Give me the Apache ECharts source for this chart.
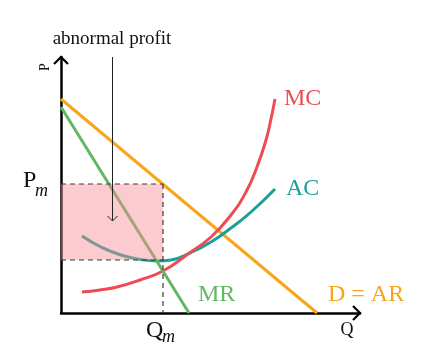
<!DOCTYPE html>
<html>
<head>
<meta charset="utf-8">
<script src="https://cdn.jsdelivr.net/npm/echarts@6/dist/echarts.min.js"></script>
<style>
html,body{margin:0;padding:0;background:#fff;}
#c{width:435px;height:357px;}
</style>
</head>
<body>
<div id="c"></div>
<script>
// Data (quantity on x, price on y)
const demandQ = [0, 256];
const demandP = [214, 0];
const mrQ = [0, 128];
const mrP = [206, 0];
const acQ = [21, 40, 60, 80, 96, 110, 129, 150, 170, 190, 214];
const acP = [77, 66, 58, 53.5, 52, 53, 60, 71, 85, 101, 124];
const mcQ = [21, 39, 56, 79, 102, 127, 150, 170, 185, 196, 205, 210, 214];
const mcP = [21, 23, 26, 33, 42, 59, 76, 98, 121, 146, 173, 194, 214];
const Qm = 102;
const Pm = 129;
const acAtQm = 53;
const xMax = 299;
const yMax = 256;

const zip = (a, b) => a.map((v, i) => [v, b[i]]);

const C_MC = '#ef4b55', C_AC = '#1aa096', C_MR = '#62b862', C_D = '#f9a51c';
const FONT = '"Liberation Serif", "DejaVu Serif", serif';

const chart = echarts.init(document.getElementById('c'));
const axisCommon = {
  type: 'value', min: 0,
  axisLine: { show: true, lineStyle: { color: '#000', width: 2.5 } },
  axisTick: { show: false }, axisLabel: { show: false }, splitLine: { show: false }
};
chart.setOption({
  animation: false,
  grid: { left: 61, right: 75, top: 57, bottom: 44 },
  xAxis: Object.assign({}, axisCommon, { max: xMax }),
  yAxis: Object.assign({}, axisCommon, { max: yMax }),
  series: [
    { type: 'line', data: zip(demandQ, demandP), symbol: 'none', z: 2, lineStyle: { color: C_D, width: 3 } },
    { type: 'line', data: zip(acQ, acP), symbol: 'none', smooth: 0.5, z: 2, lineStyle: { color: C_AC, width: 3 } },
    { type: 'line', data: zip(mcQ, mcP), symbol: 'none', smooth: 0.5, z: 2, lineStyle: { color: C_MC, width: 3 } },
    { type: 'line', data: zip(mrQ, mrP), symbol: 'none', z: 2, lineStyle: { color: C_MR, width: 3 } },
    {
      type: 'custom', z: 10, silent: true,
      data: [[0, acAtQm, Qm, Pm]],
      renderItem: function (params, api) {
        const tl = api.coord([api.value(0), api.value(3)]);
        const br = api.coord([api.value(2), api.value(1)]);
        const q0 = api.coord([api.value(2), 0]);
        const dash = { stroke: '#3a3a3a', lineWidth: 1.2, lineDash: [5, 4], fill: null };
        return {
          type: 'group',
          children: [
            { type: 'rect', shape: { x: tl[0], y: tl[1], width: br[0] - tl[0], height: br[1] - tl[1] },
              style: { fill: 'rgba(247,140,148,0.45)' } },
            { type: 'line', shape: { x1: tl[0], y1: tl[1], x2: br[0], y2: tl[1] }, style: dash },
            { type: 'line', shape: { x1: tl[0], y1: br[1], x2: br[0], y2: br[1] }, style: dash },
            { type: 'line', shape: { x1: br[0], y1: tl[1], x2: q0[0], y2: q0[1] }, style: dash }
          ]
        };
      }
    }
  ]
});

const px = (x, y) => chart.convertToPixel({ gridIndex: 0 }, [x, y]);
const o = px(0, 0);
const xe = px(xMax, 0);
const ye = px(0, yMax);
const mcEnd = px(mcQ[mcQ.length - 1], mcP[mcP.length - 1]);
const acEnd = px(acQ[acQ.length - 1], acP[acP.length - 1]);
const mrEnd = px(mrQ[1], mrP[1]);
const dEnd = px(demandQ[1], demandP[1]);
const pmPt = px(0, Pm);
const qmPt = px(Qm, 0);
const arrTop = px(51, yMax);
const arrBot = px(51, 92);
const ax = Math.round(arrTop[0]) + 0.5;

function txt(text, x, y, size, color, opts) {
  opts = opts || {};
  return {
    type: 'text', x: x, y: y, z: 20, rotation: opts.rotation || 0,
    style: {
      text: text, fill: color, fontSize: size, fontFamily: FONT,
      fontStyle: opts.italic ? 'italic' : 'normal',
      align: opts.align || 'left', verticalAlign: 'middle'
    }
  };
}
const line = (pts, color, w) => ({ type: 'polyline', z: 20, shape: { points: pts }, style: { stroke: color, lineWidth: w, fill: null } });

chart.setOption({
  graphic: [
    // axis arrow heads
    line([[ye[0] - 7, ye[1] + 7], [ye[0], ye[1]], [ye[0] + 7, ye[1] + 7]], '#000', 2.2),
    line([[xe[0] - 7, xe[1] - 7], [xe[0], xe[1]], [xe[0] - 7, xe[1] + 7]], '#000', 2.2),
    // axis names
    txt('P', o[0] - 16, ye[1] + 10, 14, '#111', { rotation: Math.PI / 2, align: 'center' }),
    txt('Q', xe[0] - 13, o[1] + 17, 18, '#111', { align: 'center' }),
    // Pm / Qm
    txt('P', pmPt[0] - 38, pmPt[1] - 3, 24, '#111'),
    txt('m', pmPt[0] - 26, pmPt[1] + 7, 18, '#111', { italic: true }),
    txt('Q', qmPt[0] - 17, qmPt[1] + 18, 24, '#111'),
    txt('m', qmPt[0] - 1, qmPt[1] + 24, 18, '#111', { italic: true }),
    // curve labels
    txt('MC', mcEnd[0] + 9, mcEnd[1], 24, C_MC),
    txt('AC', acEnd[0] + 11, acEnd[1], 24, C_AC),
    txt('MR', mrEnd[0] + 9, mrEnd[1] - 18, 24, C_MR),
    txt('D = AR', dEnd[0] + 11, dEnd[1] - 18, 24, C_D),
    // abnormal profit annotation
    txt('abnormal profit', arrTop[0], arrTop[1] - 18, 19, '#111', { align: 'center' }),
    line([[ax, arrTop[1]], [ax, arrBot[1]]], '#222', 1),
    line([[ax - 5, arrBot[1] - 5], [ax, arrBot[1]], [ax + 5, arrBot[1] - 5]], '#222', 1)
  ]
});
</script>
</body>
</html>
